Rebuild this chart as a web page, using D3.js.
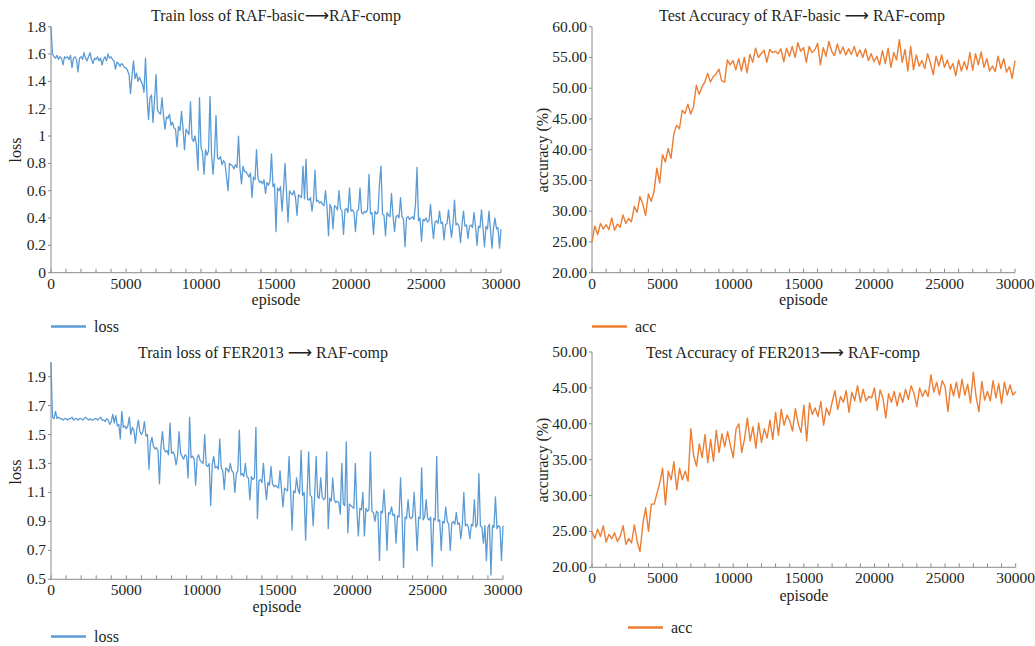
<!DOCTYPE html>
<html>
<head>
<meta charset="utf-8">
<script src="https://cdn.jsdelivr.net/npm/d3@7"></script>
<style>
  body { margin: 0; background: #fff; }
  svg text { font-family: "Liberation Serif", "DejaVu Serif", serif; fill: #231f20; }
</style>
</head>
<body>
<svg width="1035" height="646"></svg>
<script>
// episodes are sampled evenly: loss every 100, accuracy every 200
var lossStep = 100
var accStep = 200

var lossRafBasic = [
  1.80,1.60,1.58,1.57,1.59,1.56,1.58,1.57,1.52,1.58,
  1.57,1.58,1.56,1.59,1.50,1.57,1.58,1.56,1.47,1.57,
  1.58,1.56,1.61,1.57,1.55,1.58,1.61,1.56,1.53,1.57,
  1.56,1.58,1.55,1.57,1.52,1.56,1.58,1.55,1.60,1.57,
  1.58,1.56,1.55,1.49,1.54,1.53,1.51,1.53,1.52,1.50,
  1.50,1.48,1.45,1.31,1.44,1.55,1.42,1.46,1.40,1.43,
  1.40,1.38,1.32,1.57,1.30,1.12,1.28,1.30,1.10,1.26,
  1.45,1.19,1.17,1.16,1.28,1.15,1.05,1.14,1.13,1.16,
  1.08,1.10,1.06,1.05,0.92,1.07,1.04,1.18,1.06,0.90,
  1.05,1.03,1.01,1.25,0.98,0.96,1.00,0.93,0.75,1.28,
  0.92,0.88,0.72,0.90,0.86,0.89,1.29,0.87,0.72,0.86,
  1.15,0.84,0.83,0.85,0.79,0.82,0.80,0.70,0.60,0.80,
  0.79,0.78,0.76,0.79,0.77,1.00,0.76,0.65,0.78,0.74,
  0.74,0.72,0.70,0.73,0.55,0.70,0.68,0.90,0.69,0.66,
  0.67,0.65,0.68,0.58,0.66,0.64,0.67,0.87,0.63,0.65,
  0.30,0.62,0.60,0.63,0.45,0.61,0.80,0.59,0.37,0.60,
  0.58,0.57,0.60,0.55,0.42,0.57,0.56,0.55,0.78,0.54,
  0.83,0.54,0.53,0.55,0.45,0.53,0.75,0.52,0.53,0.51,
  0.52,0.50,0.49,0.60,0.48,0.27,0.50,0.47,0.32,0.49,
  0.48,0.46,0.60,0.47,0.45,0.28,0.46,0.47,0.44,0.62,
  0.45,0.46,0.44,0.30,0.45,0.46,0.62,0.44,0.43,0.45,
  0.44,0.46,0.72,0.43,0.44,0.28,0.45,0.43,0.44,0.65,
  0.78,0.43,0.42,0.27,0.44,0.42,0.41,0.58,0.42,0.30,
  0.41,0.42,0.40,0.55,0.41,0.39,0.19,0.40,0.41,0.39,
  0.40,0.41,0.39,0.50,0.77,0.38,0.40,0.23,0.39,0.38,
  0.40,0.37,0.38,0.50,0.36,0.25,0.37,0.38,0.36,0.45,
  0.36,0.37,0.24,0.35,0.36,0.46,0.35,0.26,0.36,0.53,
  0.35,0.36,0.34,0.22,0.35,0.45,0.34,0.35,0.25,0.34,
  0.35,0.33,0.44,0.34,0.20,0.34,0.33,0.46,0.33,0.19,
  0.34,0.32,0.45,0.31,0.18,0.33,0.40,0.32,0.33,0.18,
  0.32
]

var lossFer = [
  2.00,1.62,1.61,1.66,1.61,1.62,1.61,1.61,1.60,1.61,
  1.61,1.60,1.61,1.61,1.62,1.60,1.61,1.61,1.60,1.61,
  1.61,1.60,1.61,1.62,1.61,1.60,1.61,1.60,1.60,1.61,
  1.61,1.60,1.61,1.62,1.60,1.60,1.59,1.61,1.60,1.57,
  1.59,1.64,1.58,1.63,1.56,1.57,1.47,1.66,1.55,1.56,
  1.54,1.56,1.62,1.50,1.55,1.53,1.44,1.54,1.60,1.52,
  1.50,1.52,1.59,1.49,1.50,1.26,1.44,1.48,1.42,1.40,
  1.41,1.39,1.16,1.42,1.52,1.40,1.38,1.39,1.36,1.58,
  1.37,1.38,1.36,1.29,1.35,1.52,1.37,1.35,1.33,1.36,
  1.35,1.20,1.62,1.34,1.35,1.33,1.15,1.34,1.36,1.32,
  1.31,1.30,1.50,1.29,1.28,1.30,1.01,1.29,1.35,1.27,
  1.28,1.26,1.47,1.27,1.25,1.12,1.27,1.26,1.24,1.30,
  1.25,1.24,1.10,1.23,1.25,1.53,1.22,1.23,1.21,1.30,
  1.21,1.20,1.05,1.21,1.19,1.20,1.55,0.92,1.18,1.19,
  1.17,1.30,1.16,1.05,1.17,1.15,1.28,1.16,1.14,1.15,
  1.14,1.13,1.25,1.12,1.00,1.13,1.12,1.11,1.35,1.12,
  0.84,1.11,1.10,1.20,1.12,1.09,1.39,1.08,1.10,0.77,
  1.09,1.38,1.08,1.07,0.87,1.08,1.35,1.07,1.06,1.20,
  1.07,1.05,1.06,1.38,0.85,1.06,1.04,1.20,1.05,1.03,
  1.04,1.03,0.95,1.30,1.02,1.01,1.45,0.82,1.02,1.01,
  1.00,0.99,1.30,0.98,0.80,0.99,0.98,1.10,0.80,0.99,
  0.97,0.98,1.38,0.97,0.96,0.90,0.97,0.96,0.63,0.97,
  0.96,1.12,0.95,0.70,0.96,0.95,1.00,0.94,0.95,0.75,
  0.94,0.93,1.20,0.94,0.58,0.93,0.92,1.05,0.93,0.92,
  0.93,1.10,0.92,0.70,0.93,0.92,1.27,0.91,0.93,1.05,
  0.92,0.91,0.93,0.59,0.92,0.91,1.35,0.90,0.91,0.70,
  0.90,0.89,1.00,0.90,0.88,0.70,0.89,0.90,0.88,0.96,
  0.88,0.89,0.78,0.88,1.10,0.87,0.88,0.86,0.78,0.88,
  0.87,1.05,0.86,0.88,1.23,0.87,0.86,0.75,0.87,0.63,
  0.86,0.88,0.53,0.87,0.86,1.07,0.85,0.87,0.86,0.63,
  0.87
]

var accRafBasic = [
  25.0,27.6,26.2,28.0,27.1, 27.8,27.0,28.9,26.9,27.9,
  27.4,29.4,28.0,28.8,28.3, 30.8,29.8,32.4,31.2,29.3,
  32.8,31.6,33.2,37.0,34.6, 39.2,38.0,40.2,38.6,42.5,
  44.0,43.4,46.4,45.9,47.4, 45.8,47.0,50.5,49.0,50.2,
  51.0,52.4,51.0,51.9,52.3, 53.1,51.2,51.0,54.6,53.8,
  54.5,53.0,54.8,52.8,55.0, 52.5,55.5,54.2,56.5,55.0,
  55.6,56.2,54.2,56.3,55.8, 56.0,55.6,56.4,54.3,56.5,
  55.2,56.8,55.0,57.4,56.0, 56.6,54.2,56.8,55.8,56.2,
  57.3,53.8,56.6,55.2,57.6, 56.0,55.3,57.2,55.6,56.7,
  55.4,56.4,55.5,56.8,55.2, 56.2,55.0,56.4,54.5,55.6,
  54.3,55.2,53.8,56.1,54.0, 56.5,53.4,55.8,54.6,57.9,
  54.2,56.3,52.8,56.8,53.0, 55.4,53.6,54.5,53.2,55.6,
  54.1,52.2,55.2,53.6,55.4, 53.4,54.6,53.1,54.0,52.0,
  54.6,52.8,54.3,53.0,55.8, 52.9,55.6,53.8,55.9,53.4,
  54.8,52.8,53.6,52.7,55.2, 53.2,54.8,52.6,53.5,51.6,
  54.5
]

var accFer = [
  25.0,24.0,25.3,24.3,25.8, 23.5,24.6,24.0,24.8,23.6,
  24.3,25.8,23.2,24.0,23.4, 25.9,23.6,22.2,26.0,28.3,
  25.0,28.8,28.8,30.3,31.8, 33.8,28.7,33.4,32.2,34.7,
  30.8,33.8,32.2,33.4,32.0, 39.3,35.5,34.1,37.2,35.3,
  38.5,34.6,37.8,34.8,39.1, 36.0,38.6,36.8,38.9,37.0,
  35.3,39.3,40.0,36.0,37.9, 40.8,37.6,39.6,36.6,40.1,
  37.4,39.3,38.0,40.5,37.8, 41.6,38.4,42.0,39.8,41.2,
  40.4,39.0,42.1,40.0,38.8, 42.6,37.6,42.9,41.3,42.2,
  41.0,43.1,39.8,42.2,41.2, 43.0,44.6,42.0,43.8,43.0,
  44.6,41.6,44.4,43.2,45.3, 43.0,44.8,43.2,43.8,43.6,
  45.0,41.9,44.7,43.6,40.8, 44.2,43.0,44.5,42.5,44.3,
  43.0,44.8,43.4,45.3,44.2, 42.4,45.0,43.8,44.7,43.8,
  46.8,44.4,45.8,44.0,46.0, 45.2,41.7,45.5,43.9,45.8,
  43.6,46.2,44.0,45.5,42.9, 47.2,43.7,41.7,45.9,43.3,
  44.5,43.2,46.0,43.6,45.6, 42.8,45.8,44.0,45.4,44.0,
  44.5
]

var xTicks = [0, 5000, 10000, 15000, 20000, 25000, 30000]
var lossTicksRaf = [0, 0.2, 0.4, 0.6, 0.8, 1, 1.2, 1.4, 1.6, 1.8]
var lossTicksFer = [0.5, 0.7, 0.9, 1.1, 1.3, 1.5, 1.7, 1.9]
var accTicksRaf = [20, 25, 30, 35, 40, 45, 50, 55, 60]
var accTicksFer = [20, 25, 30, 35, 40, 45, 50]

var blue = "#5b9bd5"
var orange = "#ed7d31"
var axisColor = "#8a8a8a"

var svg = d3.select("svg")

function panel(p) {
    var x = d3.scaleLinear().domain([0, 30000]).range([p.x0, p.x1])
    var y = d3.scaleLinear().domain(p.yDomain).range([p.yBottom, p.yTop])
    var g = svg.append("g")

    // x axis: labelled major ticks + inner minor ticks every 1000
    var minor = d3.range(0, 30001, 1000)
    var xa = g.append("g").attr("transform", "translate(0," + p.yBottom + ")")
    xa.append("line").attr("x1", p.x0).attr("x2", p.x1).attr("stroke", axisColor)
    xa.selectAll(".mt").data(minor).enter().append("line")
        .attr("x1", d => x(d)).attr("x2", d => x(d))
        .attr("y1", 0).attr("y2", -4).attr("stroke", axisColor)
    xa.selectAll(".lb").data(xTicks).enter().append("text")
        .attr("x", d => x(d)).attr("y", 16)
        .attr("text-anchor", "middle").attr("font-size", 15.5)
        .text(d => d)

    // y axis
    var ya = g.append("g").attr("transform", "translate(" + p.x0 + ",0)")
    ya.append("line").attr("y1", y(p.yDomain[1])).attr("y2", p.yBottom).attr("stroke", axisColor)
    ya.selectAll(".yt").data(p.yTicks).enter().append("line")
        .attr("x1", 0).attr("x2", -3)
        .attr("y1", d => y(d)).attr("y2", d => y(d)).attr("stroke", axisColor)
    ya.selectAll(".yl").data(p.yTicks).enter().append("text")
        .attr("x", -5).attr("y", d => y(d) + 5)
        .attr("text-anchor", "end").attr("font-size", 15.5)
        .text(p.fmt)

    g.append("text")
        .attr("transform", "translate(" + p.yLabelX + "," + p.yLabelY + ") rotate(-90)")
        .attr("text-anchor", "middle").attr("font-size", 16)
        .text(p.yLabel)

    g.append("text").attr("x", (p.x0 + p.x1) / 2).attr("y", p.xLabelY)
        .attr("text-anchor", "middle").attr("font-size", 16).text("episode")

    var t = g.append("text").attr("x", p.titleX).attr("y", p.titleY)
        .attr("text-anchor", "middle").attr("font-size", 16)
    t.append("tspan").text(p.title[0])
    t.append("tspan").attr("font-family", "DejaVu Sans").attr("font-size", 17).text("\u27F6")
    t.append("tspan").text(p.title[1])

    var line = d3.line()
        .x((d, i) => x(i * p.step))
        .y(d => y(d))
    g.append("path").datum(p.data)
        .attr("d", line).attr("fill", "none")
        .attr("stroke", p.color).attr("stroke-width", p.lw)
        .attr("stroke-linejoin", "round")

    // legend
    g.append("line").attr("x1", p.legX).attr("x2", p.legX + 35)
        .attr("y1", p.legY).attr("y2", p.legY)
        .attr("stroke", p.color).attr("stroke-width", 2.5)
    g.append("text").attr("x", p.legX + 43).attr("y", p.legY + 5)
        .attr("font-size", 16).text(p.legend)
}

panel({
    x0: 51, x1: 501, yTop: 26.7, yBottom: 272.7, yDomain: [0, 1.8],
    yTicks: lossTicksRaf, fmt: d => d3.format("")(d), yLabel: "loss", yLabelX: 21, yLabelY: 150,
    xLabelY: 305, title: ["Train loss of RAF-basic", "RAF-comp"], titleX: 276, titleY: 21,
    data: lossRafBasic, step: lossStep, color: blue, lw: 1.3,
    legX: 51, legY: 326.5, legend: "loss"
})
panel({
    x0: 592, x1: 1015, yTop: 26.7, yBottom: 272.7, yDomain: [20, 60],
    yTicks: accTicksRaf, fmt: d3.format(".2f"), yLabel: "accuracy (%)", yLabelX: 548, yLabelY: 150,
    xLabelY: 305, title: ["Test Accuracy of RAF-basic ", " RAF-comp"], titleX: 802, titleY: 21,
    data: accRafBasic, step: accStep, color: orange, lw: 1.4,
    legX: 592, legY: 326.5, legend: "acc"
})
panel({
    x0: 51, x1: 503, yTop: 362.2, yBottom: 579.3, yDomain: [0.5, 2.0],
    yTicks: lossTicksFer, fmt: d3.format(".1f"), yLabel: "loss", yLabelX: 21, yLabelY: 472,
    xLabelY: 612, title: ["Train loss of FER2013 ", " RAF-comp"], titleX: 263, titleY: 358,
    data: lossFer, step: lossStep, color: blue, lw: 1.3,
    legX: 51, legY: 636.5, legend: "loss"
})
panel({
    x0: 592, x1: 1015.7, yTop: 352, yBottom: 567.3, yDomain: [20, 50],
    yTicks: accTicksFer, fmt: d3.format(".2f"), yLabel: "accuracy (%)", yLabelX: 548, yLabelY: 460,
    xLabelY: 601, title: ["Test Accuracy of FER2013", " RAF-comp"], titleX: 783, titleY: 358,
    data: accFer, step: accStep, color: orange, lw: 1.4,
    legX: 628, legY: 627.5, legend: "acc"
})
</script>
</body>
</html>
